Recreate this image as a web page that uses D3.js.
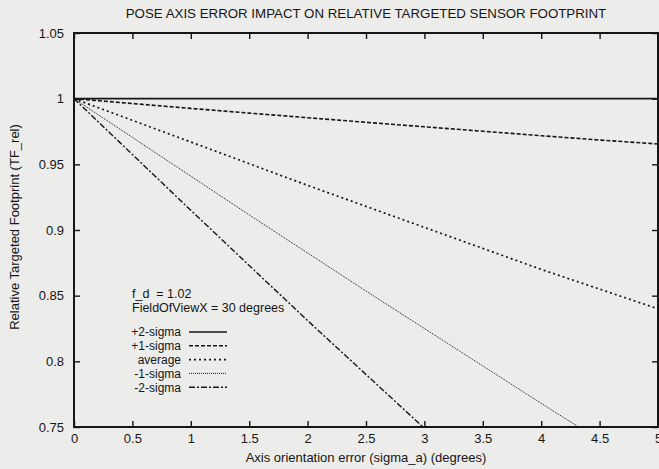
<!DOCTYPE html>
<html><head><meta charset="utf-8">
<script src="https://cdn.jsdelivr.net/npm/d3@7"></script>
<style>
html,body{margin:0;padding:0;background:#ececea;}
svg{display:block;}
text{font-family:"Liberation Sans",Arial,sans-serif;fill:#161616;}
</style></head>
<body><svg id="chart" width="659" height="469"></svg>
<script>
// ---- data ----
const sigmaA = [0, 0.5, 1, 1.5, 2, 2.5, 3, 3.5, 4, 4.5, 5];
const plus2Sigma  = [1, 1, 1, 1, 1, 1, 1, 1, 1, 1, 1];
const plus1Sigma  = [1, 0.9963, 0.9926, 0.989, 0.9855, 0.982, 0.9786, 0.9752, 0.9718, 0.9685, 0.9655];
const averageS    = [1, 0.9835, 0.967, 0.9505, 0.934, 0.918, 0.902, 0.886, 0.870, 0.855, 0.840];
const minus1Sigma = [1, 0.9705, 0.941, 0.9115, 0.8825, 0.8535, 0.825, 0.7965, 0.768, 0.740, 0.712];
const minus2Sigma = [1, 0.9575, 0.915, 0.873, 0.831, 0.790, 0.749, 0.708, 0.668, 0.628, 0.590];
const seriesNames = ["+2-sigma", "+1-sigma", "average", "-1-sigma", "-2-sigma"];
const xTicks = [0, 0.5, 1, 1.5, 2, 2.5, 3, 3.5, 4, 4.5, 5];
const yTicks = [0.75, 0.8, 0.85, 0.9, 0.95, 1, 1.05];
const titleText = "POSE AXIS ERROR IMPACT ON RELATIVE TARGETED SENSOR FOOTPRINT";
const xLabel = "Axis orientation error (sigma_a) (degrees)";
const yLabel = "Relative Targeted Footprint (TF_rel)";
const noteLines = ["f_d  = 1.02", "FieldOfViewX = 30 degrees"];

// ---- layout ----
const L = 74, R = 658, T = 33, B = 427;
const svg = d3.select("#chart");
const x = d3.scaleLinear().domain([0, 5]).range([L, R]);
const y = d3.scaleLinear().domain([0.75, 1.05]).range([B, T]);

const seriesVals = [plus2Sigma, plus1Sigma, averageS, minus1Sigma, minus2Sigma];
const styles = [
  {dash: null, w: 1.7},
  {dash: "4,2", w: 1.6},
  {dash: "2,3", w: 1.7},
  {dash: "1,1", w: 1.0},
  {dash: "6,2,2,2", w: 1.4}
];

svg.append("defs").append("clipPath").attr("id", "clip")
  .append("rect").attr("x", L).attr("y", T).attr("width", R - L).attr("height", B - T);

// title
svg.append("text").attr("x", 366).attr("y", 18).attr("text-anchor", "middle")
  .style("font-size", "13.3px").text(titleText);

// axes with inward ticks
const gB = svg.append("g").attr("transform", `translate(0,${B})`)
  .call(d3.axisBottom(x).tickValues(xTicks).tickSizeInner(-6).tickSizeOuter(0).tickPadding(7)
    .tickFormat(d => d3.format("")(d)));
const gT = svg.append("g").attr("transform", `translate(0,${T})`)
  .call(d3.axisTop(x).tickValues(xTicks).tickSizeInner(-6).tickSizeOuter(0).tickFormat(""));
const gL = svg.append("g").attr("transform", `translate(${L},0)`)
  .call(d3.axisLeft(y).tickValues(yTicks).tickSizeInner(-6).tickSizeOuter(0).tickPadding(10)
    .tickFormat(d => d3.format("")(+d.toFixed(2))));
const gR = svg.append("g").attr("transform", `translate(${R},0)`)
  .call(d3.axisRight(y).tickValues(yTicks).tickSizeInner(-6).tickSizeOuter(0).tickFormat(""));
[gB, gT, gL, gR].forEach(g => {
  g.select(".domain").remove();
  g.selectAll(".tick line").attr("stroke", "#161616").attr("stroke-width", 1.4);
  g.selectAll(".tick text").style("font-size", "13px").attr("fill", "#161616")
   .style("font-family", "'Liberation Sans',Arial,sans-serif");
});
svg.append("rect").attr("x", L).attr("y", T).attr("width", R - L).attr("height", B - T)
  .attr("fill", "none").attr("stroke", "#161616").attr("stroke-width", 2);

// lines
const line = d3.line().x((d, i) => x(sigmaA[i])).y(d => y(d));
const gLines = svg.append("g").attr("clip-path", "url(#clip)");
seriesVals.forEach((vals, k) => {
  gLines.append("path").datum(vals).attr("d", line).attr("fill", "none")
    .attr("stroke", "#161616").attr("stroke-width", styles[k].w)
    .attr("stroke-dasharray", styles[k].dash);
});

// axis labels
svg.append("text").attr("x", 366).attr("y", 462).attr("text-anchor", "middle")
  .style("font-size", "13px").text(xLabel);
svg.append("text").attr("transform", "translate(19,227) rotate(-90)").attr("text-anchor", "middle")
  .style("font-size", "13px").text(yLabel);

// notes & legend
noteLines.forEach((t, i) => {
  svg.append("text").attr("x", 132).attr("y", 298 + i * 14).style("font-size", "12.5px")
    .attr("xml:space", "preserve").style("white-space", "pre").text(t);
});
seriesNames.forEach((n, k) => {
  const yy = 332 + k * 13.8;
  svg.append("text").attr("x", 181).attr("y", yy + 4.3).attr("text-anchor", "end")
    .style("font-size", "12px").text(n);
  svg.append("line").attr("x1", 189).attr("x2", 227).attr("y1", yy).attr("y2", yy)
    .attr("stroke", "#161616").attr("stroke-width", styles[k].w)
    .attr("stroke-dasharray", styles[k].dash);
});
</script></body></html>
